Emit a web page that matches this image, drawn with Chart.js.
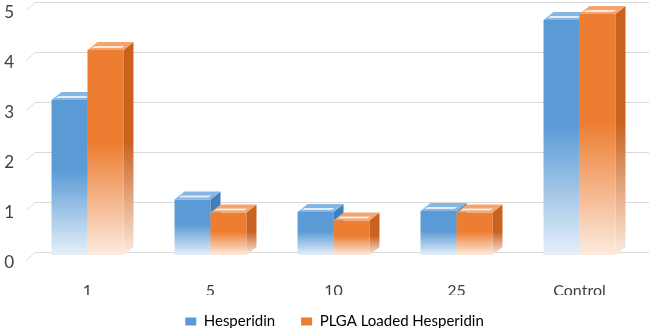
<!DOCTYPE html>
<html>
<head>
<meta charset="utf-8">
<script src="https://cdn.jsdelivr.net/npm/chart.js@4.4.1/dist/chart.umd.min.js"></script>
<style>
  html, body { margin: 0; padding: 0; background: #fff; }
  #wrap { width: 649px; height: 335px; }
</style>
</head>
<body>
<div id="wrap"><canvas id="chart"></canvas></div>
<script>
// data
const categories = ['1', '5', '10', '25', 'Control'];
const hesperidin = [3.1, 1.11, 0.86, 0.88, 4.7];
const plgaHesperidin = [4.1, 0.85, 0.69, 0.85, 4.82];
const yTicks = [0, 1, 2, 3, 4, 5];
const seriesNames = ['Hesperidin', 'PLGA Loaded Hesperidin'];

// colours per series: front, top face, side face, faded bottom
const palette = [
  { front: '#5b9bd5', top: '#86b6e3', side: '#3f7fbd', fade: '#e6eff9' },
  { front: '#ed7d31', top: '#f4a46f', side: '#c9621f', fade: '#fcebdf' }
];

const DX = 10, DY = -8; // depth offset of the 3d look

function barGradient(ctx, color, fade) {
  const chart = ctx.chart;
  if (!chart.chartArea || ctx.raw === undefined) return color;
  const y = chart.scales.y;
  const top = y.getPixelForValue(ctx.raw);
  const base = y.getPixelForValue(0);
  const g = chart.ctx.createLinearGradient(0, top, 0, base);
  g.addColorStop(0, color);
  g.addColorStop(0.45, color);
  g.addColorStop(1, fade);
  return g;
}

function drawFaces(chart, meta, p) {
  const ctx = chart.ctx;
  ctx.save();
  meta.data.forEach(bar => {
    const { x, y, width, base } = bar.getProps(['x', 'y', 'width', 'base'], true);
    const l = x - width / 2, r = x + width / 2;
    // side face
    const sg = ctx.createLinearGradient(0, y, 0, base);
    sg.addColorStop(0, p.side);
    sg.addColorStop(0.45, p.side);
    sg.addColorStop(1, p.fade);
    ctx.fillStyle = sg;
    ctx.beginPath();
    ctx.moveTo(r, y);
    ctx.lineTo(r + DX, y + DY);
    ctx.lineTo(r + DX, base + DY);
    ctx.lineTo(r, base);
    ctx.closePath();
    ctx.fill();
    // top face
    ctx.fillStyle = p.top;
    ctx.beginPath();
    ctx.moveTo(l, y);
    ctx.lineTo(l + DX, y + DY);
    ctx.lineTo(r + DX, y + DY);
    ctx.lineTo(r, y);
    ctx.closePath();
    ctx.fill();
    // small highlight on the top face
    ctx.fillStyle = 'rgba(255,255,255,0.75)';
    ctx.beginPath();
    ctx.moveTo(l + 4, y - 2);
    ctx.lineTo(r - 2, y - 2);
    ctx.lineTo(r + 1, y - 4);
    ctx.lineTo(l + 7, y - 4);
    ctx.closePath();
    ctx.fill();
  });
  ctx.restore();
}

const depthPlugin = {
  id: 'depth',
  afterLayout(chart) {
    // legend row sits lower and a bit right of centre in the original
    const lg = chart.legend;
    const h = lg.bottom - lg.top;
    lg.top = 288;
    lg.bottom = 288 + h;
    lg.left += 14;
    lg.right += 14;
  },
  beforeDatasetsDraw(chart) {
    // back wall gridlines with a little floor diagonal on the left
    const { ctx, chartArea, scales: { y } } = chart;
    ctx.save();
    ctx.strokeStyle = '#d9d9d9';
    ctx.lineWidth = 1;
    y.ticks.forEach(t => {
      const py = Math.round(y.getPixelForValue(t.value)) + 0.5;
      ctx.beginPath();
      ctx.moveTo(chartArea.left, py + 5);
      ctx.lineTo(chartArea.left + 9, py - 3);
      ctx.lineTo(chart.width, py - 3);
      ctx.stroke();
    });
    ctx.restore();
  },
  // orange has to sit in front of blue, so it is drawn after blue
  beforeDatasetDraw(chart, args) {
    if (args.index === 1) return false;
  },
  afterDatasetDraw(chart, args) {
    if (args.index !== 0) return;
    drawFaces(chart, args.meta, palette[0]);
    const m1 = chart.getDatasetMeta(1);
    m1.controller.draw();
    drawFaces(chart, m1, palette[1]);
  }
};

new Chart(document.getElementById('chart'), {
  type: 'bar',
  data: {
    labels: categories,
    datasets: [{
      label: seriesNames[0],
      data: hesperidin,
      backgroundColor: ctx => barGradient(ctx, palette[0].front, palette[0].fade),
      borderWidth: 0
    }, {
      label: seriesNames[1],
      data: plgaHesperidin,
      backgroundColor: ctx => barGradient(ctx, palette[1].front, palette[1].fade),
      borderWidth: 0
    }]
  },
  options: {
    responsive: true,
    maintainAspectRatio: false,
    animation: false,
    layout: { padding: { left: 0, right: 8, top: 5, bottom: 0 } },
    datasets: {
      bar: { categoryPercentage: 0.585, barPercentage: 1.0 }
    },
    plugins: {
      tooltip: { enabled: false },
      legend: {
        position: 'bottom',
        maxHeight: 40,
        labels: {
          color: '#404040',
          font: { family: 'Lato', size: 15 },
          boxWidth: 11,
          boxHeight: 8,
          padding: 26,
          generateLabels(chart) {
            return chart.data.datasets.map((ds, i) => ({
              text: ds.label,
              fillStyle: palette[i].front,
              strokeStyle: palette[i].front,
              lineWidth: 0,
              datasetIndex: i
            }));
          }
        }
      }
    },
    scales: {
      x: {
        afterFit(scale) { scale.height = 40; },
        grid: { display: false, drawTicks: false },
        border: { display: false },
        ticks: {
          color: '#404040',
          font: { family: 'Lato', size: 16 },
          padding: 26
        }
      },
      y: {
        min: 0,
        max: 5,
        afterBuildTicks(scale) {
          scale.ticks = yTicks.map(v => ({ value: v }));
        },
        afterFit(scale) {
          scale.width = 26;
          scale.paddingTop = 0;
          scale.paddingBottom = 0;
        },
        grid: { display: false, drawTicks: false },
        border: { display: false },
        ticks: {
          color: '#404040',
          font: { family: 'Lato', size: 17 },
          padding: 12,
          labelOffset: 8
        }
      }
    }
  },
  plugins: [depthPlugin]
});
</script>
</body>
</html>
